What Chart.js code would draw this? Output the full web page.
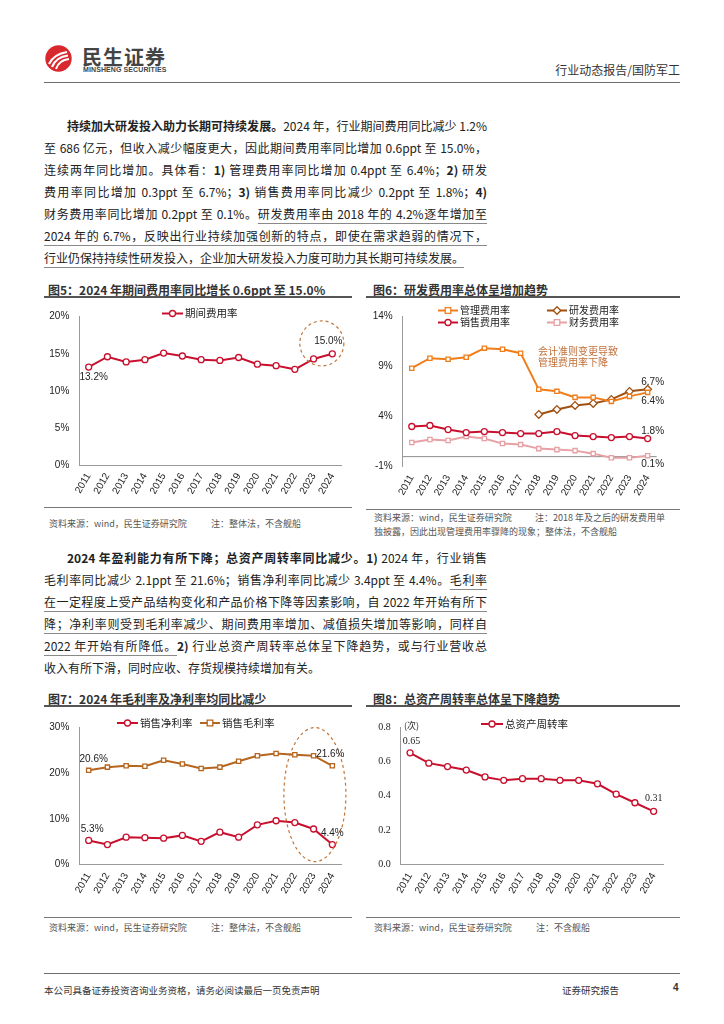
<!DOCTYPE html>
<html>
<head>
<meta charset="utf-8">
<script src="https://cdn.jsdelivr.net/npm/chart.js@4.4.1/dist/chart.umd.min.js"></script>
<style>
  body { margin: 0; width: 724px; height: 1024px; background: #fff; position: relative; overflow: hidden;
         font-family: "Noto Sans CJK SC", "Noto Sans", sans-serif; color: #222; }
  .abs { position: absolute; }
  .hline { position: absolute; height: 0; border-top: 1.5px solid #6e6e6e; }
  .para div { position: absolute; left: 44px; width: 443px; height: 22px; line-height: 22px; font-size: 12px;
              white-space: nowrap; text-align: justify; text-align-last: justify; }
  .para div.last { text-align-last: left; }
  .para b { font-weight: bold; }
  .para u { text-decoration: underline; text-decoration-color: #8a8a8a; text-underline-offset: 4px; }
  .ftitle { position: absolute; font-size: 12px; font-weight: bold; color: #333; white-space: nowrap; }
  .tline { position: absolute; height: 0; border-top: 2px solid #555; }
  .bline { position: absolute; height: 0; border-top: 1.5px solid #777; }
  .src { position: absolute; font-size: 9px; color: #555; white-space: nowrap; }
  .box { position: absolute; }
</style>
</head>
<body>

<!-- header -->
<svg class="abs" style="left:45px;top:45px" width="27" height="27" viewBox="0 0 27 27">
  <circle cx="13.5" cy="13.5" r="13.2" fill="#D9272E"/>
  <path d="M4 19 Q9 9 22 7" stroke="#fff" stroke-width="2.2" fill="none"/>
  <path d="M7 22 Q11 12 23 10.5" stroke="#fff" stroke-width="2.2" fill="none"/>
  <path d="M11 24 Q14 15 24 14" stroke="#fff" stroke-width="2.2" fill="none"/>
</svg>
<div class="abs" style="left:82px;top:42px;font-size:20px;font-weight:bold;color:#444;letter-spacing:1px">民生证券</div>
<div class="abs" style="left:83px;top:66px;font-size:7px;font-weight:bold;color:#444;font-family:'Liberation Sans';letter-spacing:0.1px">MINSHENG SECURITIES</div>
<div class="abs" style="right:44px;top:61px;font-size:12px;color:#333">行业动态报告/国防军工</div>
<div class="hline" style="left:44px;top:82px;width:636px"></div>

<!-- paragraph 1 -->
<div class="para">
  <div style="top:115px;left:67px;width:420px"><b>持续加大研发投入助力长期可持续发展。</b>2024 年，行业期间费用同比减少 1.2%</div>
  <div style="top:137px">至 686 亿元，但收入减少幅度更大，因此期间费用率同比增加 0.6ppt 至 15.0%，</div>
  <div style="top:159px">连续两年同比增加。具体看：<b>1)</b> 管理费用率同比增加 0.4ppt 至 6.4%；<b>2)</b> 研发</div>
  <div style="top:181px">费用率同比增加 0.3ppt 至 6.7%；<b>3)</b> 销售费用率同比减少 0.2ppt 至 1.8%；<b>4)</b></div>
  <div style="top:203px">财务费用率同比增加 0.2ppt 至 0.1%。<u>研发费用率由 2018 年的 4.2%逐年增加至</u></div>
  <div style="top:225px"><u>2024 年的 6.7%，反映出行业持续加强创新的特点，即使在需求趋弱的情况下，</u></div>
  <div style="top:247px" class="last"><u>行业仍保持持续性研发投入，企业加大研发投入力度可助力其长期可持续发展。</u></div>
</div>

<!-- fig 5 / 6 frames -->
<div class="ftitle" style="left:48px;top:281px">图5：2024 年期间费用率同比增长 0.6ppt 至 15.0%</div>
<div class="tline" style="left:44px;top:296px;width:308px"></div>
<div class="ftitle" style="left:373px;top:281px">图6：研发费用率总体呈增加趋势</div>
<div class="tline" style="left:366px;top:296px;width:314px"></div>

<div class="box" style="left:44px;top:300px;width:308px;height:205px"><canvas id="c5"></canvas></div>
<div class="box" style="left:364px;top:300px;width:316px;height:207px"><canvas id="c6"></canvas></div>

<div class="bline" style="left:44px;top:507px;width:308px"></div>
<div class="src" style="left:49px;top:517px">资料来源：wind，民生证券研究院</div>
<div class="src" style="left:211px;top:517px">注：整体法，不含舰船</div>
<div class="bline" style="left:366px;top:509px;width:314px"></div>
<div class="src" style="left:374px;top:511px">资料来源：wind，民生证券研究院</div>
<div class="src" style="left:535px;top:511px">注：2018 年及之后的研发费用单</div>
<div class="src" style="left:374px;top:525px">独披露，因此出现管理费用率骤降的现象；整体法，不含舰船</div>

<!-- paragraph 2 -->
<div class="para">
  <div style="top:547px;left:67px;width:420px"><b>2024 年盈利能力有所下降；总资产周转率同比减少。1)</b> 2024 年，行业销售</div>
  <div style="top:569px">毛利率同比减少 2.1ppt 至 21.6%；销售净利率同比减少 3.4ppt 至 4.4%。<u>毛利率</u></div>
  <div style="top:591px"><u>在一定程度上受产品结构变化和产品价格下降等因素影响，自 2022 年开始有所下</u></div>
  <div style="top:613px"><u>降；净利率则受到毛利率减少、期间费用率增加、减值损失增加等影响，同样自</u></div>
  <div style="top:635px"><u>2022 年开始有所降低。</u><b>2)</b> 行业总资产周转率总体呈下降趋势，或与行业营收总</div>
  <div style="top:657px" class="last">收入有所下滑，同时应收、存货规模持续增加有关。</div>
</div>

<!-- fig 7 / 8 frames -->
<div class="ftitle" style="left:48px;top:690px">图7：2024 年毛利率及净利率均同比减少</div>
<div class="tline" style="left:44px;top:705px;width:308px"></div>
<div class="ftitle" style="left:373px;top:690px">图8：总资产周转率总体呈下降趋势</div>
<div class="tline" style="left:366px;top:705px;width:314px"></div>

<div class="box" style="left:44px;top:708px;width:308px;height:207px"><canvas id="c7"></canvas></div>
<div class="box" style="left:364px;top:708px;width:316px;height:207px"><canvas id="c8"></canvas></div>

<div class="bline" style="left:44px;top:917px;width:308px"></div>
<div class="src" style="left:49px;top:921px">资料来源：wind，民生证券研究院</div>
<div class="src" style="left:211px;top:921px">注：整体法，不含舰船</div>
<div class="bline" style="left:366px;top:917px;width:314px"></div>
<div class="src" style="left:374px;top:921px">资料来源：wind，民生证券研究院</div>
<div class="src" style="left:536px;top:921px">注：不含舰船</div>

<!-- footer -->
<div class="hline" style="left:44px;top:973px;width:636px"></div>
<div class="abs" style="left:44px;top:983px;font-size:9.5px;color:#333">本公司具备证券投资咨询业务资格，请务必阅读最后一页免责声明</div>
<div class="abs" style="left:562px;top:983px;font-size:9.5px;color:#333">证券研究报告</div>
<div class="abs" style="left:673px;top:982px;font-size:10px;font-weight:bold;color:#333;font-family:'Liberation Sans'">4</div>

<script>
// 年份
const years = ['2011', '2012', '2013', '2014', '2015', '2016', '2017', '2018', '2019', '2020', '2021', '2022', '2023', '2024'];

// 图5 期间费用率 (%)
const expenseRate = [13.2, 14.6, 13.9, 14.2, 15.1, 14.7, 14.2, 14.1, 14.5, 13.6, 13.4, 12.9, 14.3, 15.0];

// 图6 各项费用率 (%)
const mgmtRate = [8.8, 9.8, 9.7, 9.9, 10.8, 10.7, 10.3, 6.7, 6.5, 5.9, 5.9, 5.5, 6.0, 6.4];
const rdRate = [null, null, null, null, null, null, null, 4.2, 4.7, 5.1, 5.3, 5.7, 6.5, 6.7];
const salesRate = [3.0, 3.1, 2.7, 2.4, 2.5, 2.4, 2.3, 2.3, 2.5, 2.1, 2.0, 1.9, 2.0, 1.8];
const finRate = [1.4, 1.7, 1.6, 2.0, 1.8, 1.3, 1.2, 0.8, 0.7, 0.6, 0.3, -0.1, -0.1, 0.1];

// 图7 销售净利率 / 销售毛利率 (%)
const netMargin = [5.3, 4.4, 6.0, 5.9, 5.8, 6.4, 5.1, 7.1, 6.0, 8.7, 9.6, 9.2, 7.8, 4.4];
const grossMargin = [20.6, 21.3, 21.6, 21.5, 22.8, 22.0, 21.0, 21.3, 22.6, 23.8, 24.3, 24.0, 23.8, 21.6];

// 图8 总资产周转率 (次)
const turnover = [0.65, 0.59, 0.57, 0.55, 0.51, 0.49, 0.50, 0.50, 0.49, 0.49, 0.47, 0.41, 0.36, 0.31];

const RED = '#C8102E';
const ORANGE = '#F07D1A';
const BROWN = '#A0500F';
const PINK = '#E8A0A4';
const GM_BROWN = '#B5651D';
const SANS = "'Liberation Sans', Arial, sans-serif";
const CJK = "'Noto Sans CJK SC', sans-serif";
const SERIF = "'Liberation Serif', serif";

const pct1 = v => v.toFixed(1) + '%';

// 画图例的小图标
function drawMarker(ctx, style, x, y, color) {
    ctx.save();
    ctx.fillStyle = '#fff';
    ctx.strokeStyle = color;
    ctx.lineWidth = 1.3;
    ctx.beginPath();
    if (style === 'rect') {
        ctx.rect(x - 2.8, y - 2.8, 5.6, 5.6);
    } else if (style === 'rectRot') {
        ctx.moveTo(x, y - 3.8); ctx.lineTo(x + 3.8, y); ctx.lineTo(x, y + 3.8); ctx.lineTo(x - 3.8, y); ctx.closePath();
    } else {
        ctx.arc(x, y, 3, 0, Math.PI * 2);
    }
    ctx.fill();
    ctx.stroke();
    ctx.restore();
}

// 图例、数据标签、虚线圈、注释
const decor = {
    id: 'decor',
    beforeDatasetsDraw(chart, args, opts) {
        const ctx = chart.ctx;
        const xs = chart.scales.x, ys = chart.scales.y;
        if (opts.zeroLine) {
            const y0 = ys.getPixelForValue(0);
            ctx.save();
            ctx.strokeStyle = '#8c8c8c';
            ctx.lineWidth = 1;
            ctx.beginPath();
            ctx.moveTo(xs.left, y0);
            ctx.lineTo(xs.right, y0);
            ctx.stroke();
            ctx.restore();
        }
    },
    afterDatasetsDraw(chart, args, opts) {
        const ctx = chart.ctx;
        const xs = chart.scales.x, ys = chart.scales.y;

        if (opts.ellipse) {
            const e = opts.ellipse;
            ctx.save();
            ctx.strokeStyle = '#C0763A';
            ctx.lineWidth = 1.2;
            ctx.setLineDash([3, 3]);
            ctx.beginPath();
            ctx.ellipse(xs.getPixelForValue(e.i), ys.getPixelForValue(e.v), e.rx, e.ry, 0, 0, Math.PI * 2);
            ctx.stroke();
            ctx.restore();
        }

        (opts.legend || []).forEach(it => {
            const ds = chart.data.datasets[it.ds];
            ctx.save();
            ctx.strokeStyle = ds.borderColor;
            ctx.lineWidth = 2;
            ctx.beginPath();
            ctx.moveTo(it.x, it.y);
            ctx.lineTo(it.x + it.w, it.y);
            ctx.stroke();
            drawMarker(ctx, ds.pointStyle, it.x + it.w / 2, it.y, ds.borderColor);
            ctx.fillStyle = '#222';
            ctx.font = (opts.legendFont || '10.5px') + ' ' + CJK;
            ctx.textBaseline = 'middle';
            ctx.fillText(ds.label, it.x + it.w + 2, it.y);
            ctx.restore();
        });

        (opts.labels || []).forEach(l => {
            const pt = chart.getDatasetMeta(l.ds).data[l.i];
            const v = chart.data.datasets[l.ds].data[l.i];
            ctx.save();
            ctx.fillStyle = '#222';
            ctx.font = (opts.labelFont || ('10px ' + SANS));
            ctx.textAlign = 'center';
            ctx.textBaseline = 'middle';
            ctx.fillText(opts.fmt(v), pt.x + l.dx, pt.y + l.dy);
            ctx.restore();
        });

        (opts.notes || []).forEach(n => {
            ctx.save();
            ctx.fillStyle = n.color || '#222';
            ctx.font = n.font;
            ctx.textBaseline = 'middle';
            ctx.fillText(n.text, n.x, n.y);
            ctx.restore();
        });
    }
};

function lineSet(label, data, color, style) {
    return {
        label: label,
        data: data,
        borderColor: color,
        backgroundColor: color,
        borderWidth: 2,
        pointStyle: style,
        pointRadius: style === 'rectRot' ? 3.8 : 3,
        pointBorderWidth: 1.3,
        pointBackgroundColor: '#fff',
        pointBorderColor: color,
        tension: 0,
        spanGaps: false
    };
}

function xAxis(h) {
    return {
        type: 'category',
        offset: true,
        grid: { display: false, drawTicks: false },
        border: { display: true, color: '#9a9a9a', width: 1 },
        ticks: { color: '#222', font: { size: 10, family: SANS }, minRotation: 60, maxRotation: 60, autoSkip: false, padding: 6 },
        afterFit: function (s) { s.height = h; }
    };
}

function yAxis(min, max, step, w, cb, font) {
    return {
        min: min,
        max: max,
        grid: { display: false, drawTicks: false },
        border: { display: true, color: '#9a9a9a', width: 1 },
        ticks: { stepSize: step, color: '#222', font: font || { size: 10, family: SANS }, padding: 10, callback: cb },
        afterFit: function (s) { s.width = w; }
    };
}

function baseOptions(pad, scales, decorOpts) {
    return {
        responsive: true,
        maintainAspectRatio: false,
        animation: false,
        layout: { padding: pad },
        plugins: {
            legend: { display: false },
            tooltip: { enabled: false },
            decor: decorOpts
        },
        scales: scales
    };
}

// 图5
new Chart(document.getElementById('c5'), {
    type: 'line',
    data: { labels: years, datasets: [lineSet('期间费用率', expenseRate, RED, 'circle')] },
    options: baseOptions({ top: 16.7, right: 10.3, bottom: 0, left: 0 }, {
        x: xAxis(40),
        y: yAxis(0, 20, 5, 35.3, v => v + '%')
    }, {
        fmt: pct1,
        legend: [{ ds: 0, x: 118, y: 13.5, w: 21 }],
        labels: [{ ds: 0, i: 0, dx: 5, dy: 10 }, { ds: 0, i: 13, dx: -4, dy: -12.5 }],
        ellipse: { i: 12.44, v: 16.4, rx: 22, ry: 22.5 }
    }),
    plugins: [decor]
});

// 图6
new Chart(document.getElementById('c6'), {
    type: 'line',
    data: {
        labels: years,
        datasets: [
            lineSet('管理费用率', mgmtRate, ORANGE, 'rect'),
            lineSet('研发费用率', rdRate, BROWN, 'rectRot'),
            lineSet('销售费用率', salesRate, RED, 'circle'),
            lineSet('财务费用率', finRate, PINK, 'rect')
        ]
    },
    options: (function () {
        const o = baseOptions({ top: 12.3, right: 23.3, bottom: 0, left: 0 }, {
            x: xAxis(40.3),
            y: yAxis(-1, 14, 5, 38.7, v => v + '%')
        }, {
            fmt: pct1,
            zeroLine: true,
            legendFont: '10px',
            legend: [
                { ds: 0, x: 74, y: 10.5, w: 20 },
                { ds: 1, x: 183, y: 10.5, w: 20 },
                { ds: 2, x: 74, y: 22.5, w: 20 },
                { ds: 3, x: 183, y: 22.5, w: 20 }
            ],
            labels: [
                { ds: 1, i: 13, dx: 5, dy: -7.5 },
                { ds: 0, i: 13, dx: 5, dy: 8.5 },
                { ds: 2, i: 13, dx: 5, dy: -7 },
                { ds: 3, i: 13, dx: 5, dy: 9 }
            ],
            notes: [
                { text: '会计准则变更导致', x: 174, y: 51, font: '10px ' + CJK, color: '#C0703A' },
                { text: '管理费用率下降', x: 174, y: 62, font: '10px ' + CJK, color: '#C0703A' }
            ]
        });
        o.scales.x.border.display = false;
        return o;
    })(),
    plugins: [decor]
});

// 图7
new Chart(document.getElementById('c7'), {
    type: 'line',
    data: {
        labels: years,
        datasets: [
            lineSet('销售净利率', netMargin, RED, 'circle'),
            lineSet('销售毛利率', grossMargin, GM_BROWN, 'rect')
        ]
    },
    options: baseOptions({ top: 19.3, right: 10.3, bottom: 0, left: 0 }, {
        x: xAxis(50.3),
        y: yAxis(0, 30, 10, 35.3, v => v + '%')
    }, {
        fmt: pct1,
        legend: [{ ds: 0, x: 73, y: 15, w: 21 }, { ds: 1, x: 156, y: 15, w: 20 }],
        labels: [
            { ds: 1, i: 0, dx: 5, dy: -11.5 },
            { ds: 1, i: 13, dx: -2, dy: -12 },
            { ds: 0, i: 0, dx: 3.5, dy: -11 },
            { ds: 0, i: 13, dx: 0, dy: -11.5 }
        ],
        ellipse: { i: 12.07, v: 15.3, rx: 31, ry: 67 }
    }),
    plugins: [decor]
});

// 图8
new Chart(document.getElementById('c8'), {
    type: 'line',
    data: { labels: years, datasets: [lineSet('总资产周转率', turnover, RED, 'circle')] },
    options: baseOptions({ top: 19, right: 17, bottom: 0, left: 0 }, {
        x: xAxis(50.3),
        y: yAxis(0, 0.8, 0.2, 36.7, v => v.toFixed(1), { size: 10, family: SERIF })
    }, {
        fmt: v => v.toFixed(2),
        labelFont: '10px ' + SERIF,
        legend: [{ ds: 0, x: 117, y: 16, w: 22 }],
        labels: [{ ds: 0, i: 0, dx: 1.5, dy: -11 }, { ds: 0, i: 13, dx: 0, dy: -13 }],
        notes: [{ text: '(次)', x: 40, y: 18, font: '9px ' + CJK, color: '#333' }]
    }),
    plugins: [decor]
});
</script>
</body>
</html>
